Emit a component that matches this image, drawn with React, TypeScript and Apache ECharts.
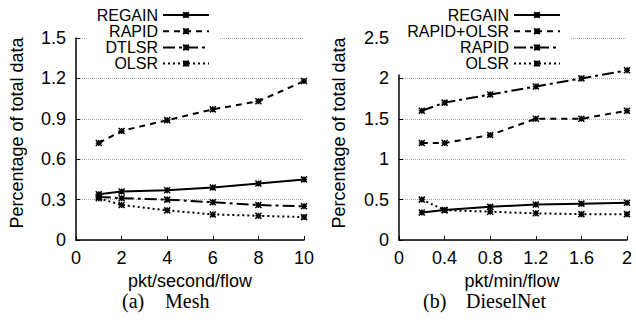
import React, { useEffect, useRef } from "react";
import * as echarts from "echarts";

const meshX = [1, 2, 4, 6, 8, 10];
const meshRegain = [0.34, 0.36, 0.37, 0.39, 0.42, 0.45];
const meshRapid = [0.72, 0.81, 0.89, 0.97, 1.03, 1.18];
const meshDtlsr = [0.32, 0.31, 0.3, 0.28, 0.26, 0.25];
const meshOlsr = [0.31, 0.26, 0.22, 0.19, 0.18, 0.17];

const dnX = [0.2, 0.4, 0.8, 1.2, 1.6, 2.0];
const dnRegain = [0.34, 0.37, 0.41, 0.44, 0.45, 0.46];
const dnRapidOlsr = [1.2, 1.2, 1.3, 1.5, 1.5, 1.6];
const dnRapid = [1.6, 1.7, 1.8, 1.9, 2.0, 2.1];
const dnOlsr = [0.5, 0.37, 0.35, 0.33, 0.32, 0.32];

const meshNames = ["REGAIN", "RAPID", "DTLSR", "OLSR"];
const dnNames = ["REGAIN", "RAPID+OLSR", "RAPID", "OLSR"];

const SANS = "Liberation Sans";
const SERIF = "Liberation Serif";
const STAR = "path://M0,0L10,10M10,0L0,10M5,0L5,10M0,5L10,5";

const STYLES: any = {
  solid: "solid",
  dashed: [6, 5],
  dashdot: [12, 4, 3, 4],
  dotted: [2, 3],
};

function mkSeries(name: string, xs: number[], ys: number[], dash: any) {
  return {
    type: "line",
    name,
    data: xs.map((x, i) => [x, ys[i]]),
    symbol: STAR,
    symbolSize: 6,
    showSymbol: true,
    itemStyle: { color: "#000", borderColor: "#000", borderWidth: 1.5 },
    lineStyle: { color: "#000", width: 2, type: dash },
    emphasis: { disabled: true },
  };
}

function Panel(props: { option: any }) {
  const ref = useRef<HTMLDivElement>(null);
  useEffect(() => {
    const chart = echarts.init(ref.current!, null, { renderer: "svg" });
    chart.setOption(props.option);
    return () => chart.dispose();
  }, []);
  return <div ref={ref} style={{ width: 318, height: 322 }} />;
}

function buildOption(cfg: {
  gridLeft: number;
  gridRight: number;
  xMax: number;
  xInterval: number;
  yMax: number;
  yInterval: number;
  series: any[];
  legendRight: number;
  xTitle: string;
  xTitleX: number;
  yTitleX: number;
  capA: string;
  capAX: number;
  capB: string;
  capBX: number;
}) {
  return {
    animation: false,
    grid: { left: cfg.gridLeft, right: cfg.gridRight, top: 38, bottom: 82 },
    xAxis: {
      type: "value",
      min: 0,
      max: cfg.xMax,
      interval: cfg.xInterval,
      axisLine: { show: true, lineStyle: { color: "#000", width: 1.5 } },
      axisTick: { show: true, inside: true, length: 4, lineStyle: { color: "#000" } },
      axisLabel: { color: "#000", fontSize: 18, fontFamily: SANS, margin: 9 },
      splitLine: { show: false },
    },
    yAxis: {
      type: "value",
      min: 0,
      max: cfg.yMax,
      interval: cfg.yInterval,
      axisLine: { show: true, lineStyle: { color: "#000", width: 1.5 } },
      axisTick: { show: true, inside: true, length: 4, lineStyle: { color: "#000" } },
      axisLabel: { color: "#000", fontSize: 18, fontFamily: SANS, margin: 10 },
      splitLine: { show: true, lineStyle: { color: "#aaa", width: 1, type: [1, 1] } },
    },
    legend: {
      orient: "vertical",
      right: cfg.legendRight,
      top: 4,
      align: "right",
      padding: [3, 10, 3, 10],
      backgroundColor: "#fff",
      itemWidth: 46,
      itemHeight: 7,
      itemGap: 0.2,
      selectedMode: false,
      textStyle: { color: "#000", fontSize: 16, fontFamily: SANS, lineHeight: 14 },
      data: cfg.series.map((s) => s.name),
    },
    graphic: [
      {
        type: "text",
        x: cfg.yTitleX,
        y: 133,
        rotation: Math.PI / 2,
        style: {
          text: "Percentage of total data",
          fontSize: 18,
          fontFamily: SANS,
          fill: "#000",
          align: "center",
          verticalAlign: "middle",
        },
      },
      {
        type: "text",
        x: cfg.xTitleX,
        y: 281,
        style: {
          text: cfg.xTitle,
          fontSize: 18,
          fontFamily: SANS,
          fill: "#000",
          align: "center",
          verticalAlign: "middle",
        },
      },
      {
        type: "text",
        x: cfg.capAX,
        y: 301,
        style: {
          text: cfg.capA,
          fontSize: 20,
          fontFamily: SERIF,
          fill: "#000",
          align: "left",
          verticalAlign: "middle",
        },
      },
      {
        type: "text",
        x: cfg.capBX,
        y: 301,
        style: {
          text: cfg.capB,
          fontSize: 20,
          fontFamily: SERIF,
          fill: "#000",
          align: "left",
          verticalAlign: "middle",
        },
      },
    ],
    series: cfg.series,
  };
}

const meshOption = buildOption({
  gridLeft: 76,
  gridRight: 14,
  xMax: 10,
  xInterval: 2,
  yMax: 1.5,
  yInterval: 0.3,
  series: [
    mkSeries(meshNames[0], meshX, meshRegain, STYLES.solid),
    mkSeries(meshNames[1], meshX, meshRapid, STYLES.dashed),
    mkSeries(meshNames[2], meshX, meshDtlsr, STYLES.dashdot),
    mkSeries(meshNames[3], meshX, meshOlsr, STYLES.dotted),
  ],
  legendRight: 98,
  xTitle: "pkt/second/flow",
  xTitleX: 190,
  yTitleX: 17,
  capA: "(a)",
  capAX: 122,
  capB: "Mesh",
  capBX: 165,
});

const dnOption = buildOption({
  gridLeft: 81,
  gridRight: 9,
  xMax: 2,
  xInterval: 0.4,
  yMax: 2.5,
  yInterval: 0.5,
  series: [
    mkSeries(dnNames[0], dnX, dnRegain, STYLES.solid),
    mkSeries(dnNames[1], dnX, dnRapidOlsr, STYLES.dashed),
    mkSeries(dnNames[2], dnX, dnRapid, STYLES.dashdot),
    mkSeries(dnNames[3], dnX, dnOlsr, STYLES.dotted),
  ],
  legendRight: 65,
  xTitle: "pkt/min/flow",
  xTitleX: 194,
  yTitleX: 21,
  capA: "(b)",
  capAX: 105,
  capB: "DieselNet",
  capBX: 148,
});

export default function App() {
  return (
    <div
      style={{
        position: "absolute",
        left: 0,
        top: 0,
        width: 636,
        height: 322,
        display: "flex",
        background: "#fff",
      }}
    >
      <Panel option={meshOption} />
      <Panel option={dnOption} />
    </div>
  );
}
